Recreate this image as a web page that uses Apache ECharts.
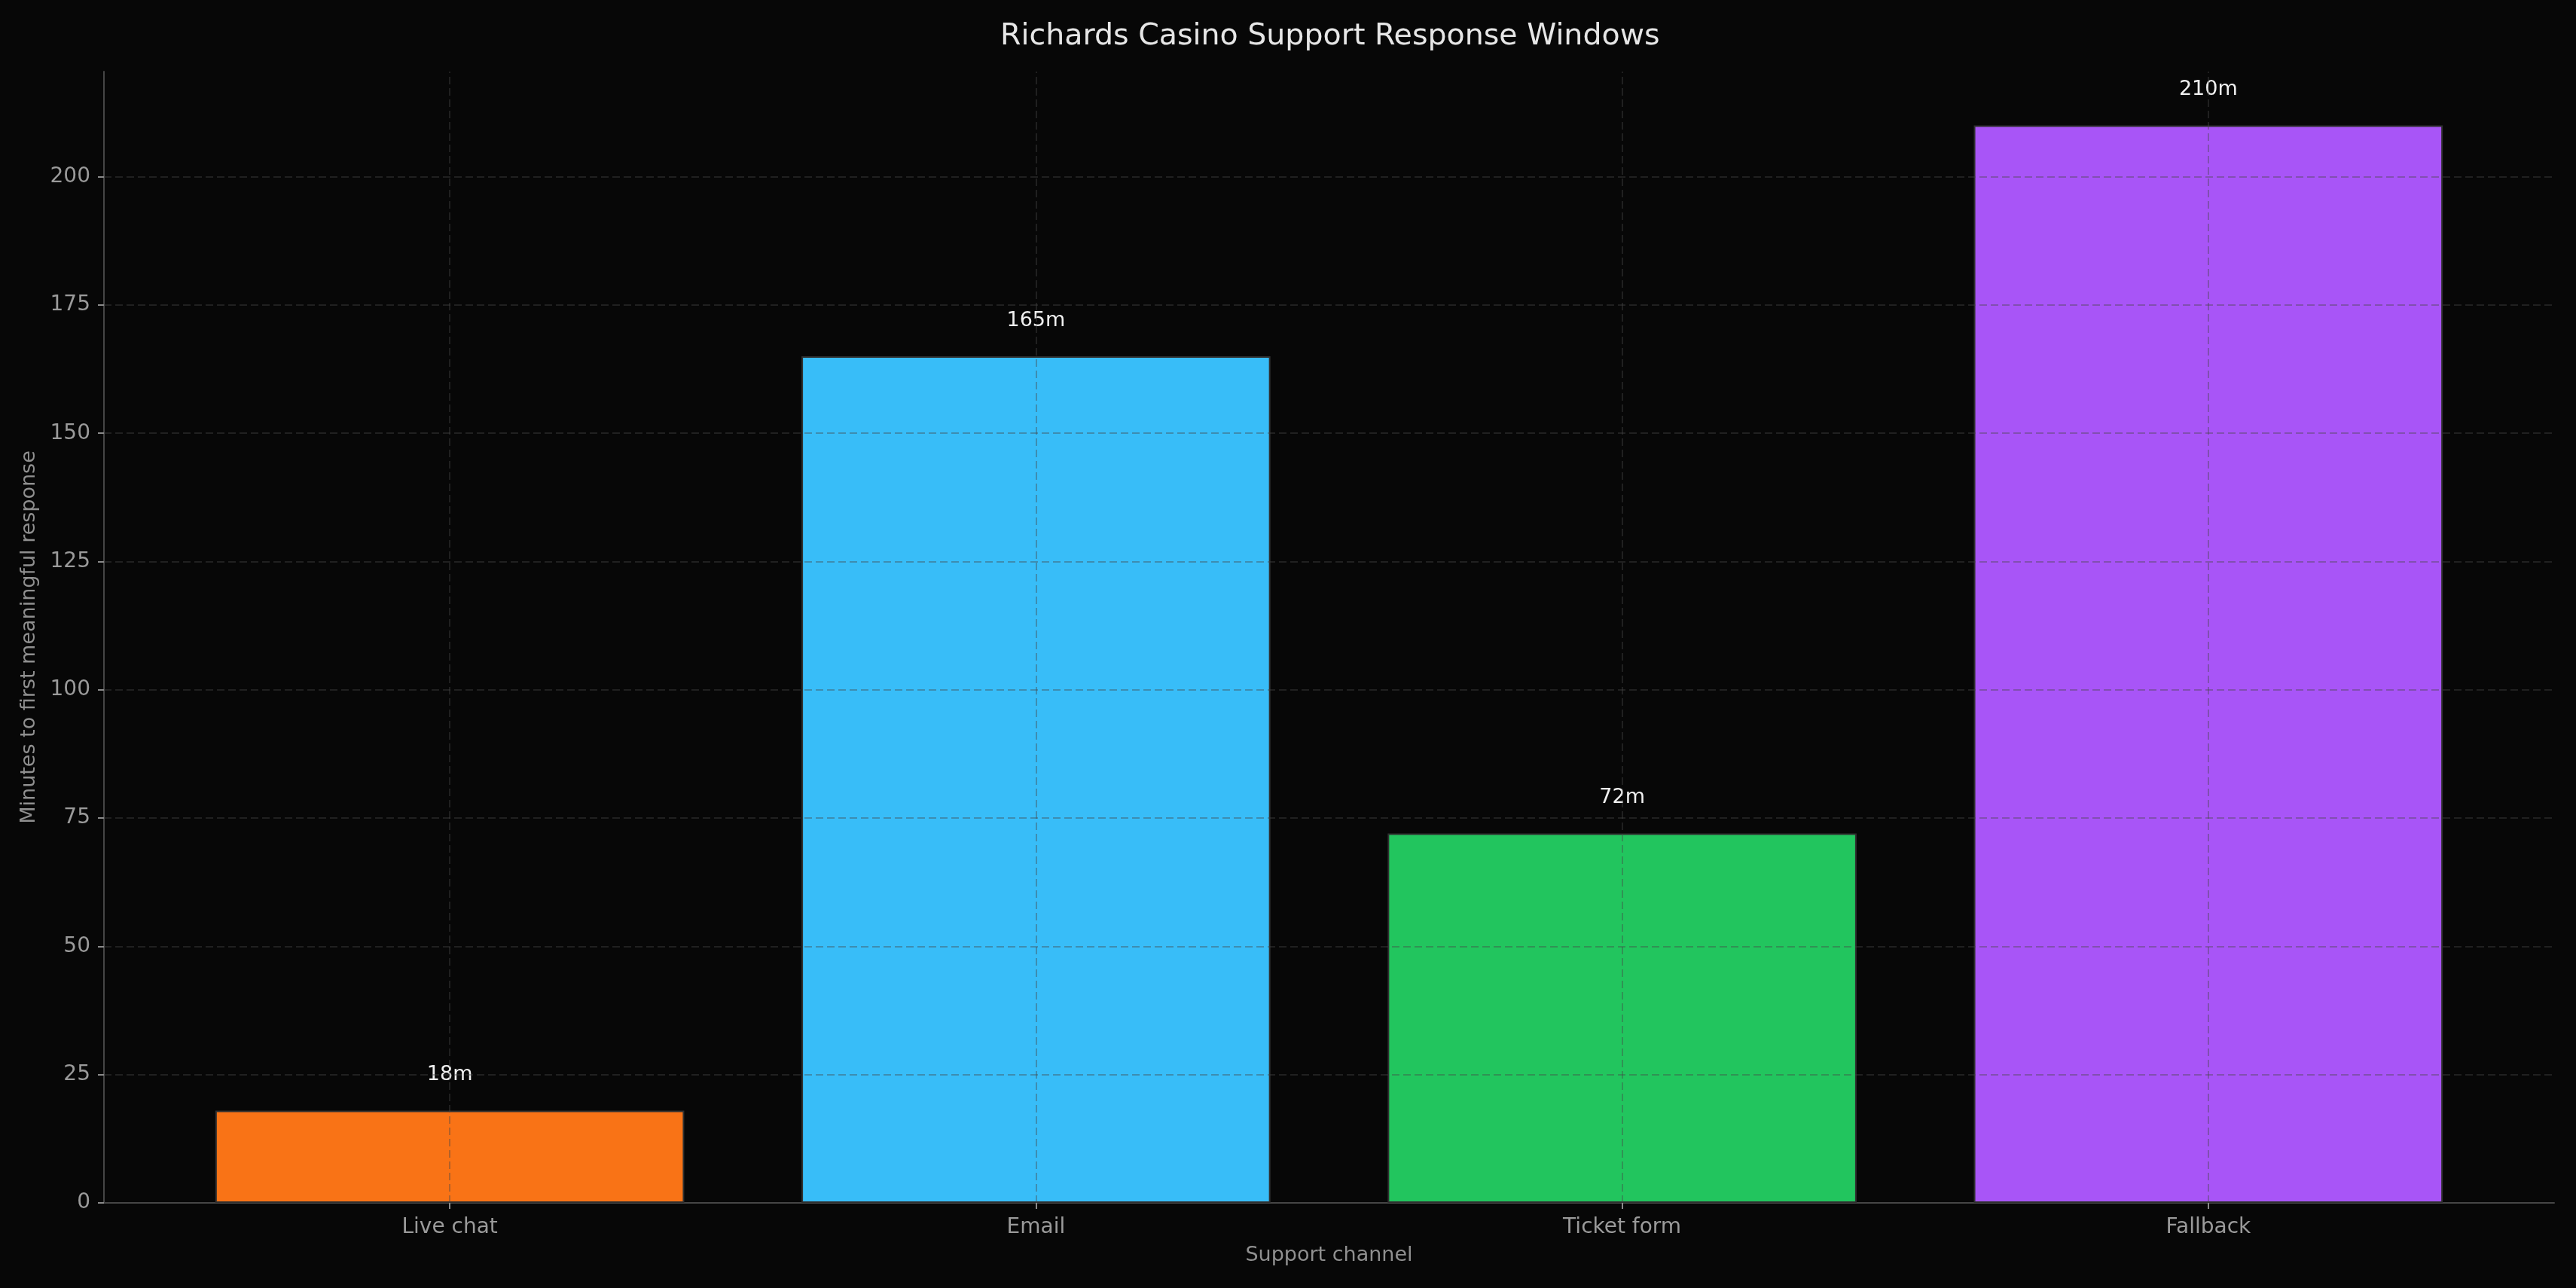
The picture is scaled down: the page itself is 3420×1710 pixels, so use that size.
<!DOCTYPE html>
<html>
<head>
<meta charset="utf-8">
<title>Richards Casino Support Response Windows</title>
<script src="https://cdn.jsdelivr.net/npm/echarts@6/dist/echarts.min.js"></script>
<style>
  html, body { margin: 0; padding: 0; background: #070707; }
  #chart { width: 3420px; height: 1710px; }
</style>
</head>
<body>
<div id="chart"></div>
<script>
// data
var categories = ['Live chat', 'Email', 'Ticket form', 'Fallback'];
var minutes = [18, 165, 72, 210];
var yTicks = [0, 25, 50, 75, 100, 125, 150, 175, 200];
var palette = ['#f97316', '#38bdf8', '#22c55e', '#a855f7'];

var font = 'DejaVu Sans';
var gridLeft = 138, gridRight = 29, gridTop = 95, gridBottom = 113;
var xMin = -0.59, xMax = 3.59;
var unitPx = (3420 - gridLeft - gridRight) / (xMax - xMin);

var barData = [];
for (var i in minutes) {
    barData.push({
        value: [Number(i), minutes[i]],
        itemStyle: { color: palette[i] }
    });
}

// grid lines sit on top of the bars, like the original
var gridLines = [];
for (var j in yTicks) {
    if (yTicks[j] > 0) gridLines.push({ yAxis: yTicks[j] });
}
for (var k in categories) {
    gridLines.push({ xAxis: Number(k) });
}

var chart = echarts.init(document.getElementById('chart'));
var option = {
    backgroundColor: '#070707',
    animation: false,
    title: {
        text: 'Richards Casino Support Response Windows',
        left: 1328,
        top: 29,
        padding: 0,
        textStyle: { color: '#e6e6e6', fontFamily: font, fontSize: 39.5, fontWeight: 'normal' }
    },
    grid: { left: gridLeft, right: gridRight, top: gridTop, bottom: gridBottom },
    xAxis: {
        type: 'value',
        min: xMin,
        max: xMax,
        name: 'Support channel',
        nameLocation: 'middle',
        nameGap: 56,
        nameTextStyle: { color: '#8f8f8f', fontFamily: font, fontSize: 27 },
        axisLine: { show: true, onZero: false, lineStyle: { color: '#454545', width: 2 } },
        axisTick: { show: true, length: 8, customValues: [0, 1, 2, 3], lineStyle: { color: '#8a8a8a', width: 2 } },
        axisLabel: {
            customValues: [0, 1, 2, 3],
            margin: 19,
            color: '#9a9a9a',
            fontFamily: font,
            fontSize: 28,
            formatter: function (v) { return categories[Math.round(v)]; }
        },
        splitLine: { show: false }
    },
    yAxis: {
        type: 'value',
        min: 0,
        max: 220.5,
        name: 'Minutes to first meaningful response',
        nameLocation: 'middle',
        nameGap: 86,
        nameTextStyle: { color: '#8f8f8f', fontFamily: font, fontSize: 27 },
        axisLine: { show: true, onZero: false, lineStyle: { color: '#454545', width: 2 } },
        axisTick: { show: true, length: 8, customValues: yTicks, lineStyle: { color: '#8a8a8a', width: 2 } },
        axisLabel: {
            customValues: yTicks,
            margin: 18,
            color: '#9a9a9a',
            fontFamily: font,
            fontSize: 28
        },
        splitLine: { show: false }
    },
    series: [
        {
            type: 'bar',
            data: barData,
            barWidth: 0.8 * unitPx,
            itemStyle: { borderColor: '#303030', borderWidth: 2 },
            label: {
                show: true,
                position: 'top',
                distance: 34,
                color: '#f0f0f0',
                fontFamily: font,
                fontSize: 27,
                formatter: function (p) { return p.value[1] + 'm'; }
            },
            markLine: {
                silent: true,
                symbol: 'none',
                label: { show: false },
                lineStyle: { color: 'rgba(70,70,70,0.4)', type: [10, 5], width: 2 },
                data: gridLines
            }
        }
    ]
};
chart.setOption(option);
</script>
</body>
</html>
